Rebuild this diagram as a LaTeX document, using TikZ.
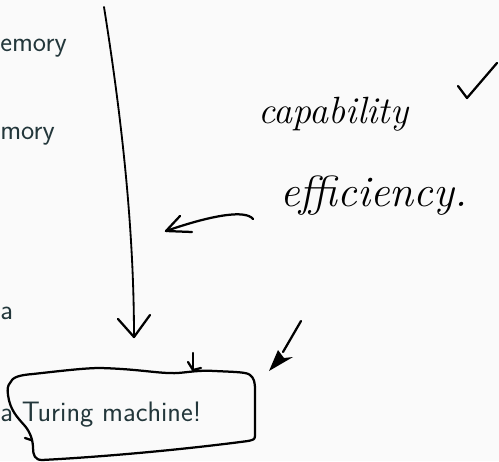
\documentclass[tikz,border=0pt]{standalone}
\usetikzlibrary{arrows.meta}
\definecolor{slidetext}{HTML}{23373B}
\definecolor{slidebg}{HTML}{FAFAFA}
\tikzset{
  pen/.style={line width=1.6pt, line cap=round, line join=round},
  slide/.style={color=slidetext, font=\sffamily\fontsize{20}{24}\selectfont, inner sep=0pt, anchor=base west},
  hand/.style={font=\itshape\fontsize{27}{30}\selectfont, inner sep=0pt, anchor=base west}
}
\begin{document}
\begin{tikzpicture}[x=0.025cm, y=-0.025cm]
                \fill[slidebg] (0,0) rectangle (499,461) ;
                \useasboundingbox (0,0) rectangle (499,461) ;
                \clip (0,0) rectangle (499,461) ;
                % slide text at the left border
                \node[slide] (mem1) at (0,51) {emory} ;
                \node[slide] (mem2) at (0,139) {mory} ;
                \node[slide] (art) at (0,319) {a} ;
                \node[slide] (tm) at (0,421) {a Turing machine!} ;
                % notes
                \node[hand] (cap) at (258,123) {capability} ;
                \node[hand, font=\itshape\fontsize{31}{34}\selectfont] (eff) at (280,206) {efficiency.} ;
                \coordinate (tick) at (467,98) ;
                \draw[pen] (458,86) -- (tick) -- (497,63) ;
                % long arrow down
                \coordinate (top) at (104,7) ;
                \coordinate (tip) at (134,337) ;
                \draw[pen, line width=1.3pt] (top) .. controls (122,120) and (134,230) .. (tip) ;
                \draw[pen] (118,319) -- (tip) -- (150,315) ;
                % arrow from efficiency
                \coordinate (efftail) at (253,219) ;
                \coordinate (efftip) at (166,231) ;
                \draw[pen] (efftail) .. controls (246,210) and (215,214) .. (efftip) ;
                \draw[pen] (180,216) -- (efftip) -- (192,232) ;
                % box round the last line
                \draw[pen] (10,383) .. controls (12,377) and (20,375) .. (33,374)
                    .. controls (60,371) and (85,368) .. (100,368)
                    .. controls (140,369) and (160,374) .. (178,373)
                    .. controls (190,372) and (200,370) .. (215,371)
                    .. controls (235,372) and (247,372) .. (250,375)
                    .. controls (254,378) and (255,382) .. (255,390)
                    -- (255,436) .. controls (255,440) and (252,440) .. (248,441)
                    .. controls (180,450) and (100,457) .. (42,460)
                    .. controls (35,460) and (33,455) .. (33,448)
                    .. controls (33,440) and (30,432) .. (25,426)
                    .. controls (17,417) and (10,410) .. (8,395)
                    .. controls (7,389) and (8,385) .. (10,383) ;
                \draw[pen] (25,438) -- (31,440) ;
                \coordinate (boxtip) at (193,370) ;
                \draw[pen] (193,353) -- (boxtip) ;
                \draw[pen] (188,362) -- (boxtip) -- (201,368) ;
                % arrow on the right
                \coordinate (rtail) at (301,321) ;
                \coordinate (rtip) at (269,371) ;
                \draw[pen] (rtail) -- (283,352) ;
                \fill (rtip) -- (278,350) -- (284,358) -- (293,357) -- cycle ;
\end{tikzpicture}
\end{document}
